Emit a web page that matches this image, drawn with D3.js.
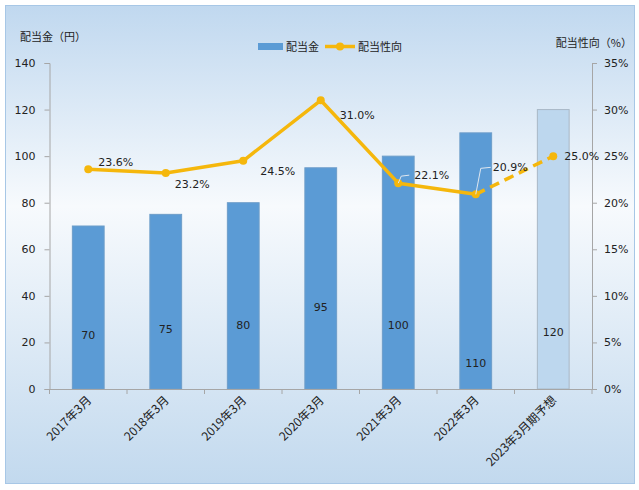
<!DOCTYPE html>
<html><head><meta charset="utf-8">
<script src="https://cdn.jsdelivr.net/npm/d3@7"></script>
<style>
html,body{margin:0;padding:0;background:#fff;}
svg{display:block;}
text{font-family:"DejaVu Sans","Noto Sans CJK JP",sans-serif;}
</style></head>
<body>
<script>
// ---- data ----
const categories = ["2017年3月","2018年3月","2019年3月","2020年3月","2021年3月","2022年3月","2023年3月期予想"];
const dividends = [70, 75, 80, 95, 100, 110, 120];
const payoutRatio = [23.6, 23.2, 24.5, 31.0, 22.1, 20.9, 25.0];
const forecastFlags = [false, false, false, false, false, false, true];
const leftTicks = [0, 20, 40, 60, 80, 100, 120, 140];
const rightTicks = [0, 5, 10, 15, 20, 25, 30, 35];
const leftTitle = "配当金（円）";
const rightTitle = "配当性向（%）";
const seriesNames = ["配当金", "配当性向"];

// ---- layout ----
const W = 639, H = 490;
const m = {left: 49.5, right: 639 - 592, top: 63, bottom: 490 - 389};
const svg = d3.select("body").append("svg").attr("width", W).attr("height", H);

const defs = svg.append("defs");
const bg = defs.append("linearGradient").attr("id","bg").attr("x1",0).attr("y1",0).attr("x2",0).attr("y2",1);
bg.append("stop").attr("offset","0%").attr("stop-color","#c0d8ef");
bg.append("stop").attr("offset","42%").attr("stop-color","#f7fafd");
bg.append("stop").attr("offset","100%").attr("stop-color","#c2d9ee");

svg.append("rect").attr("x",5.5).attr("y",5.5).attr("width",629).attr("height",478)
  .attr("fill","url(#bg)").attr("stroke","#a7c7e6").attr("stroke-width",1);

const x = d3.scaleBand().domain(categories).range([m.left, W - m.right]).paddingInner(0.59).paddingOuter(0.295);
const xc = d => x(d) + x.bandwidth()/2;
const yL = d3.scaleLinear().domain([0,140]).range([H - m.bottom, m.top]);
const yR = d3.scaleLinear().domain([0,35]).range([H - m.bottom, m.top]);

const axisColor = "#a6a6a6";

// bars
const barG = svg.append("g");
barG.selectAll("rect").data(dividends).join("rect")
  .attr("x", (d,i) => x(categories[i]))
  .attr("y", d => yL(d))
  .attr("width", x.bandwidth())
  .attr("height", d => yL(0) - yL(d))
  .attr("fill", (d,i) => forecastFlags[i] ? "#bdd7ee" : "#5b9bd5")
  .attr("stroke", (d,i) => forecastFlags[i] ? "#a9b8c6" : "#6d9dc9")
  .attr("stroke-width", 1);

// axes
const gL = svg.append("g").attr("transform", `translate(${m.left},0)`)
  .call(d3.axisLeft(yL).tickValues(leftTicks).tickSize(5).tickPadding(9));
const gR = svg.append("g").attr("transform", `translate(${W - m.right},0)`)
  .call(d3.axisRight(yR).tickValues(rightTicks).tickSize(5).tickPadding(7).tickFormat(d => d + "%"));
const gB = svg.append("g").attr("transform", `translate(0,${H - m.bottom})`)
  .call(d3.axisBottom(x).tickSize(0).tickFormat(""));
// category boundary ticks
const bounds = d3.range(categories.length + 1).map(i => m.left + i * x.step());
svg.append("g").selectAll("line").data(bounds).join("line")
  .attr("x1", d => d).attr("x2", d => d)
  .attr("y1", H - m.bottom).attr("y2", H - m.bottom + 5)
  .attr("stroke", axisColor);
[gL, gR, gB].forEach(g => {
  g.selectAll(".domain").attr("stroke", axisColor);
  g.selectAll(".tick line").attr("stroke", axisColor);
  g.selectAll("text").attr("fill", "#222").attr("font-size", 11);
});
gB.selectAll(".domain").attr("d", `M${m.left},0.5H${W - m.right}`);

// category labels
svg.append("g").selectAll("text").data(categories).join("text")
  .attr("transform", d => `translate(${xc(d) + 4},${H - m.bottom + 12}) rotate(-45)`)
  .attr("text-anchor", "end")
  .attr("font-size", 12)
  .attr("fill", "#222")
  .style("font-family", '"Noto Sans CJK JP","DejaVu Sans",sans-serif')
  .text(d => d);

// bar value labels (vertical anchor positions in data units)
const barLabelAt = [23, 25.5, 27.5, 35, 27.5, 11, 24.5];
svg.append("g").selectAll("text").data(dividends).join("text")
  .attr("x", (d,i) => xc(categories[i]))
  .attr("y", (d,i) => yL(barLabelAt[i]))
  .attr("dy", "0.35em")
  .attr("text-anchor", "middle")
  .attr("font-size", 11)
  .attr("fill", "#222")
  .text(d => d);

// line
const lineColor = "#f5b70c";
const pts = payoutRatio.map((v,i) => [xc(categories[i]), yR(v)]);
const line = d3.line();
const lastActual = forecastFlags.indexOf(true) - 1;
svg.append("path").attr("d", line(pts.slice(0, lastActual + 1)))
  .attr("fill","none").attr("stroke", lineColor).attr("stroke-width", 3.5).attr("stroke-linejoin","round");
svg.append("path").attr("d", line(pts.slice(lastActual)))
  .attr("fill","none").attr("stroke", lineColor).attr("stroke-width", 3.5).attr("stroke-dasharray","10,6");
svg.append("g").selectAll("circle").data(pts).join("circle")
  .attr("cx", d => d[0]).attr("cy", d => d[1]).attr("r", 4)
  .attr("fill", lineColor);

// leader lines for 22.1 and 20.9
const leaders = [[4, [[0,0],[3,-7],[11,-8]]], [5, [[0,0],[5,-26],[15,-27]]]];
leaders.forEach(([i, offs]) => {
  svg.append("path")
    .attr("d", d3.line()(offs.map(o => [pts[i][0] + o[0], pts[i][1] + o[1]])))
    .attr("fill","none").attr("stroke","#dfe7f0").attr("stroke-width",1);
});

// line value labels (offsets from point)
const lineLabelOff = [[10,-7],[9,11],[17,10],[19,15],[16,-8],[17,-27],[11,0]];
svg.append("g").selectAll("text").data(payoutRatio).join("text")
  .attr("x", (d,i) => pts[i][0] + lineLabelOff[i][0])
  .attr("y", (d,i) => pts[i][1] + lineLabelOff[i][1])
  .attr("dy","0.35em")
  .attr("font-size", 11)
  .attr("fill", "#222")
  .text(d => d.toFixed(1) + "%");

// axis titles
svg.append("text").attr("x", 20).attr("y", 41).attr("font-size", 11).attr("fill","#222")
  .style("font-family",'"Noto Sans CJK JP",sans-serif').text(leftTitle);
svg.append("text").attr("x", 632).attr("y", 47).attr("text-anchor","end").attr("font-size", 11).attr("fill","#222")
  .style("font-family",'"Noto Sans CJK JP",sans-serif').text(rightTitle);

// legend
const lg = svg.append("g");
lg.append("rect").attr("x", 258).attr("y", 43).attr("width", 25).attr("height", 7).attr("fill", "#5b9bd5");
lg.append("text").attr("x", 286).attr("y", 50.5).attr("font-size", 11).attr("fill","#222")
  .style("font-family",'"Noto Sans CJK JP",sans-serif').text(seriesNames[0]);
lg.append("line").attr("x1", 325).attr("x2", 355).attr("y1", 46.5).attr("y2", 46.5)
  .attr("stroke", lineColor).attr("stroke-width", 3.5);
lg.append("circle").attr("cx", 340).attr("cy", 46.5).attr("r", 4).attr("fill", lineColor);
lg.append("text").attr("x", 358).attr("y", 50.5).attr("font-size", 11).attr("fill","#222")
  .style("font-family",'"Noto Sans CJK JP",sans-serif').text(seriesNames[1]);
</script>
</body></html>
